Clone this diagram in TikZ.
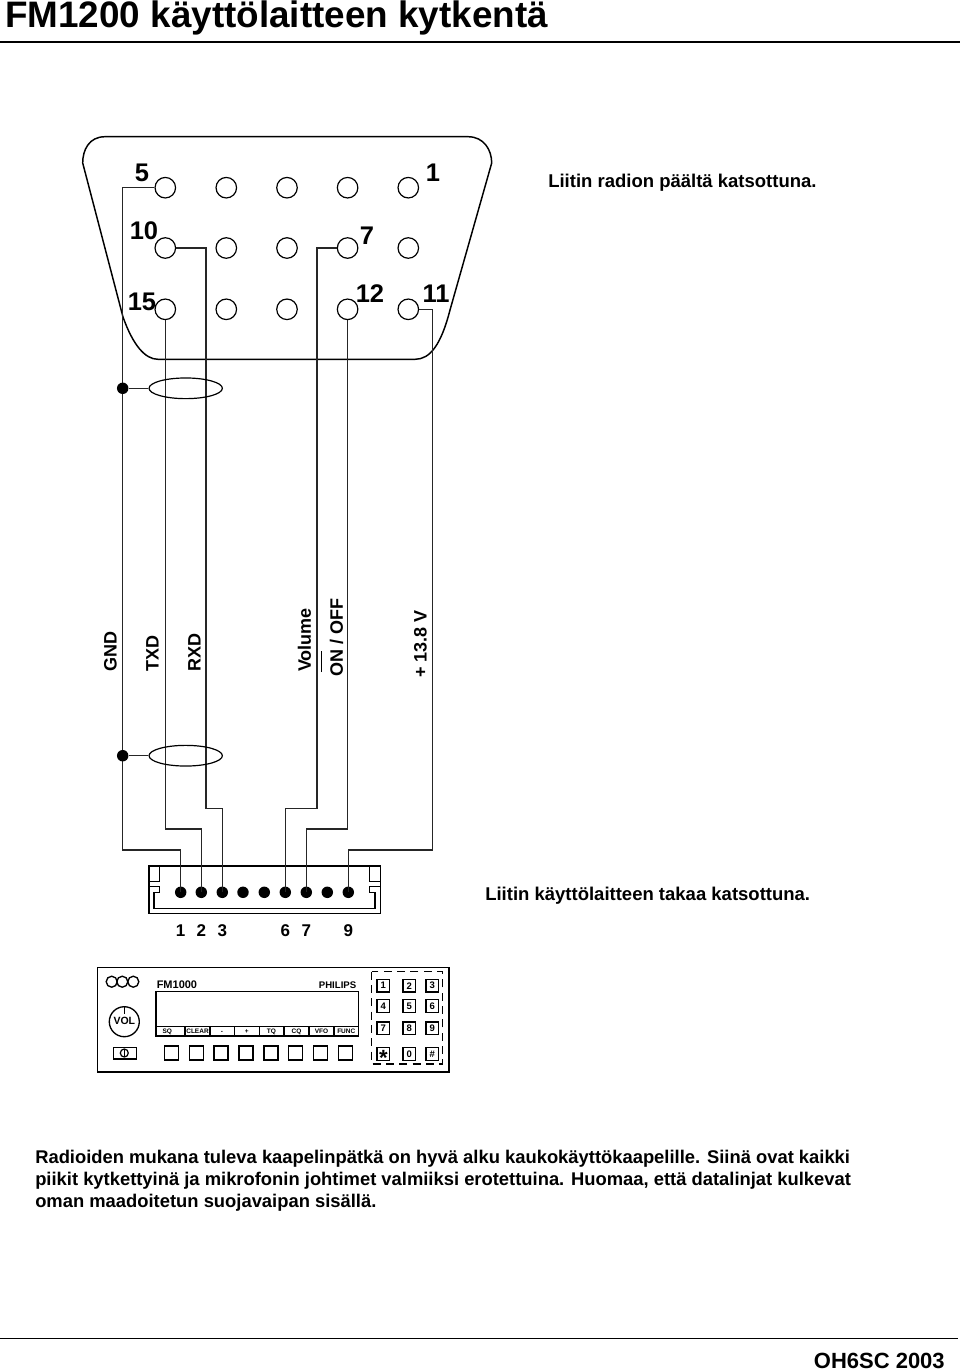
\documentclass[tikz,border=0pt]{standalone}
\usepackage{fontspec}
\setmainfont{Liberation Sans}
\newcommand{\tpx}[1]{\fontsize{\dimexpr #1pt*3/4\relax}{\dimexpr #1pt*9/10\relax}\selectfont}
\usetikzlibrary{shapes.geometric}
\tikzset{
  wire/.style={line width=1pt,draw=black!85,line join=miter},
  socket/.style={circle,draw,line width=.9pt,minimum size=15.4pt,inner sep=0pt,fill=white},
  dotpin/.style={circle,fill=black,minimum size=8.6pt,inner sep=0pt},
  screen/.style={ellipse,draw,line width=.9pt,minimum width=55pt,minimum height=15.5pt,inner sep=0pt},
  pinlab/.style={font=\bfseries\tpx{25.5}},
  sidelab/.style={font=\bfseries\tpx{18},rotate=90,anchor=west,inner sep=0pt},
  numlab/.style={font=\bfseries\tpx{17}},
  caption/.style={font=\bfseries\tpx{18.5},anchor=west,inner sep=0pt},
  keybox/.style={draw,line width=1pt,minimum size=9.4pt,inner sep=0pt,font=\bfseries\tpx{9.5}},
  softkey/.style={draw,line width=1pt,minimum size=10.5pt,inner sep=0pt},
  softlab/.style={font=\bfseries\tpx{6.5},anchor=base,inner sep=0pt},
}
\begin{document}
\begin{tikzpicture}[x=0.75pt,y=-0.75pt]
\useasboundingbox (0,0) rectangle (960,1372);
% title
\node[anchor=base west,font=\bfseries\tpx{36.85},inner sep=0pt] (title) at (5,27.5) {FM1200 käyttölaitteen kytkentä};
\draw[line width=1.2pt] (0,42) -- (960,42);
\draw[line width=1.2pt] (0,1338.5) -- (958,1338.5);
\node[anchor=east,font=\bfseries\tpx{22},inner sep=0pt] (sign) at (945,1361) {OH6SC 2003};
% connector shell
\draw[line width=1.1pt] (105,136.7) -- (468,136.7)
  .. controls (484,136.7) and (491.7,150) .. (491.7,163)
  -- (450,310)
  .. controls (441,345) and (430,359.3) .. (415,359.3)
  -- (158,359.3)
  .. controls (145,359.3) and (133,345) .. (123,317)
  -- (82.7,163)
  .. controls (82.7,150) and (89,136.7) .. (105,136.7) -- cycle;
% sockets
\foreach \r/\y in {1/187.7,2/248,3/309.3}{
  \foreach \c/\x in {1/165.3,2/226.3,3/287,4/347.6,5/408.3}{
    \node[socket] (s\r\c) at (\x,\y) {};
  }
}
\node[pinlab] (p5) at (142,173) {5};
\node[pinlab] (p1) at (433,173) {1};
\node[pinlab] (p10) at (144,231) {10};
\node[pinlab] (p7) at (367,236) {7};
\node[pinlab] (p15) at (142,302) {15};
\node[pinlab] (p12) at (370,294) {12};
\node[pinlab] (p11) at (436,294) {11};
\node[caption] (c1) at (548,182.5) {Liitin radion päältä katsottuna.};
% bottom connector
\draw[line width=1.1pt] (149,866) rectangle (380.3,913.3);
\draw[line width=1.1pt] (149,881.7) -- (159.7,881.7) -- (159.7,866);
\draw[line width=1.1pt] (380.3,881.7) -- (369.3,881.7) -- (369.3,866);
\draw[line width=1.1pt] (149,886.7) -- (159.7,886.7) -- (159.7,892.7) -- (154,892.7) -- (154,908.3) -- (375,908.3) -- (375,892.7) -- (369.3,892.7) -- (369.3,886.7) -- (380.3,886.7);
\foreach \n/\x in {1/180.7,2/201.3,3/222.3,4/243,5/264.3,6/285.3,7/306.3,8/327.3,9/348.3}{
  \node[dotpin] (d\n) at (\x,892.3) {};
}
\foreach \n/\x in {1/180.7,2/201.3,3/222.3,6/285.3,7/306.3,9/348.3}{
  \node[numlab] (n\n) at (\x,931) {\n};
}
% wires
\draw[wire] (s11.west) -| (122.7,850) -| (d1.center);
\draw[wire] (s31.south) |- (d2.center |- 0,829) -- (d2.center);
\draw[wire] (s21.east) -| (206,808.3) -| (d3.center);
\draw[wire] (s24.west) -| (317,808.3) -| (d6.center);
\draw[wire] (s34.south) |- (d7.center |- 0,829) -- (d7.center);
\draw[wire] (s35.east) -| (432.3,850) -| (d9.center);
% shields
\node[screen] (e1) at (185.7,388.3) {};
\node[screen] (e2) at (185.7,755.7) {};
\node[dotpin] (j1) at (122.7,388.3) {};
\node[dotpin] (j2) at (122.7,755.7) {};
\draw[wire] (j1) -- (e1);
\draw[wire] (j2) -- (e2);
% side labels
\node[sidelab] (l1) at (110.5,672) {GND};
\node[sidelab] (l2) at (152.5,672) {TXD};
\node[sidelab] (l3) at (194.5,672) {RXD};
\node[sidelab] (l4) at (304.5,672) {Volume};
\node[sidelab] (l5) at (336.5,677) {ON / OFF};
\draw[line width=0.8pt] (321.7,672) -- (321.7,651);
\node[sidelab] (l6) at (420.5,678) {+ 13.8 V};
\node[caption] (c2) at (485,896) {Liitin käyttölaitteen takaa katsottuna.};
% panel
\draw[line width=1.2pt] (97.3,967.3) rectangle (449,1071.7);
\foreach \x in {111.7,122.3,133.3}{\draw[line width=1pt] (\x,981.7) circle (5.5);}
\node[anchor=west,font=\bfseries\tpx{11},inner sep=0pt] (fm) at (156.5,985) {FM1000};
\node[anchor=east,font=\bfseries\tpx{9.6},inner sep=0pt] (ph) at (356.5,985) {PHILIPS};
\draw[line width=1.1pt] (156,991.7) rectangle (358.7,1036);
\draw[line width=1pt] (156,1026.7) -- (358.7,1026.7);
\foreach \x in {185,210,234.3,259.3,284,309,334}{\draw[line width=.8pt] (\x,1026.7) -- (\x,1036);}
\foreach \t/\x in {SQ/167.3,CLEAR/197.5,-/222,+/246.7,TQ/271.5,CQ/296.5,VFO/321.5,FUNC/346.3}{
  \node[softlab] (k\x) at (\x,1033) {\t};
}
\node[circle,draw,line width=1pt,minimum size=22.5pt,inner sep=0pt] (vol) at (124.3,1021.7) {};
\node[font=\bfseries\tpx{10.5}] (voll) at (124.3,1021) {VOL};
\draw[line width=.9pt] (vol.north) -- (124.3,1014);
\draw[line width=1.1pt] (113.3,1047.3) rectangle (136.7,1059);
\draw[line width=.9pt] (124.3,1053) circle (4);
\draw[line width=.9pt] (124.3,1049) -- (124.3,1057);
\foreach \x in {171.3,196.2,221.1,246,270.9,295.8,320.7,345.6}{
  \node[softkey] at (\x,1053) {};
}
\draw[line width=1.1pt,dash pattern=on 6pt off 4pt] (371.7,971.7) rectangle (442.7,1064);
\foreach \t/\x/\y in {1/383.3/985.7,2/409.3/985.7,3/432.3/985.7,4/383.3/1006,5/409.3/1006,6/432.3/1006,7/383.3/1028.3,8/409.3/1028.3,9/432.3/1028.3,0/409.3/1054,\#/432.3/1054}{
  \node[keybox] at (\x,\y) {\t};
}
\node[keybox] (star) at (383.3,1054) {};
\node[font=\bfseries\tpx{22}] at (383.3,1057.5) {*};
% paragraph
\node[anchor=north west,align=left,font=\bfseries\tpx{18.38},inner sep=0pt] (para) at (35,1149.5) {Radioiden mukana tuleva kaapelinpätkä on hyvä alku kaukokäyttökaapelille. Siinä ovat kaikki\\piikit kytkettyinä ja mikrofonin johtimet valmiiksi erotettuina. Huomaa, että datalinjat kulkevat\\oman maadoitetun suojavaipan sisällä.};
\end{tikzpicture}
\end{document}
